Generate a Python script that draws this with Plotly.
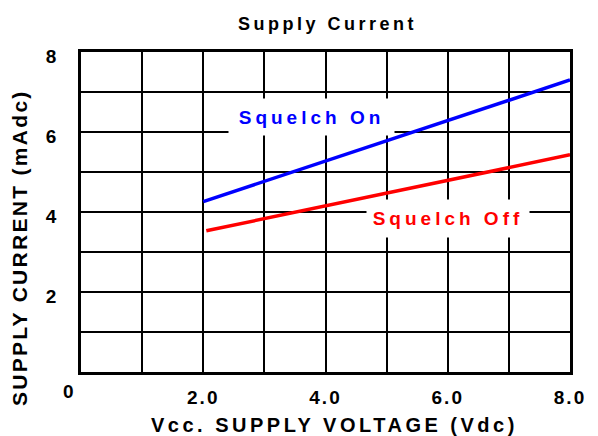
import plotly.graph_objects as go

# Data
on_x = [2.0, 8.0]
on_y = [4.26, 7.3]
off_x = [2.05, 8.0]
off_y = [3.53, 5.43]

x_tickvals = [0, 1, 2, 3, 4, 5, 6, 7, 8]
x_ticktext = ["", "", "2.0", "", "4.0", "", "6.0", "", "8.0"]
y_tickvals = [0, 1, 2, 3, 4, 5, 6, 7, 8]
y_ticktext = ["", "", "2", "", "4", "", "6", "", "8"]

FONT = "Liberation Sans, Arial, Helvetica, sans-serif"

L, R, T, B = 81, 578, 52, 372
PW, PH = R - L, B - T


def spaced(t, px):
    return f'<span style="letter-spacing:{px}px">{t}</span>'


fig = go.Figure()
fig.add_trace(go.Scatter(x=on_x, y=on_y, mode="lines",
                         line=dict(color="#0000ff", width=3.5),
                         name="Squelch On", showlegend=False, hoverinfo="skip"))
fig.add_trace(go.Scatter(x=off_x, y=off_y, mode="lines",
                         line=dict(color="#ff0000", width=3.5),
                         name="Squelch Off", showlegend=False, hoverinfo="skip"))

axis_common = dict(
    showgrid=True, gridcolor="black", gridwidth=2,
    showline=True, linecolor="black", linewidth=2.5, mirror=True,
    zeroline=False, ticks="", tickfont=dict(family=FONT, size=19, color="black", weight=700),
    fixedrange=True, ticklabeloverflow="allow",
)

fig.update_xaxes(range=[0, 8], tickmode="array", tickvals=x_tickvals,
                 ticktext=[spaced(t, 2) if t else "" for t in x_ticktext],
                 ticklabelstandoff=6, **axis_common)
fig.update_yaxes(range=[0, 8], tickmode="array", tickvals=y_tickvals,
                 ticktext=y_ticktext, ticklabelstandoff=18, ticklabelshift=4, **axis_common)


def px_x(p):
    return (p - L) / PW


def px_y(p):
    return (B - p) / PH


annotations = [
    dict(text=spaced("Supply Current", 3.5), x=px_x(332), y=px_y(24),
         xref="paper", yref="paper", xanchor="center", yanchor="middle",
         showarrow=False, font=dict(family=FONT, size=18, color="black", weight=700)),
    dict(text=spaced("Vcc. SUPPLY VOLTAGE (Vdc)", 3.5), x=px_x(339), y=px_y(425),
         xref="paper", yref="paper", xanchor="center", yanchor="middle",
         showarrow=False, font=dict(family=FONT, size=20, color="black", weight=700)),
    dict(text=spaced("SUPPLY CURRENT (mAdc)", 2.3), textangle=-90, x=px_x(18), y=px_y(248),
         xref="paper", yref="paper", xanchor="center", yanchor="middle",
         showarrow=False, font=dict(family=FONT, size=21, color="black", weight=700)),
    dict(text="0", x=px_x(68), y=px_y(391), xref="paper", yref="paper",
         xanchor="center", yanchor="middle",
         showarrow=False, font=dict(family=FONT, size=19, color="black", weight=700)),
    dict(text=spaced("Squelch On", 4), x=3.775, y=6.375, xref="x", yref="y",
         showarrow=False, width=165, height=36, bgcolor="white", borderpad=0,
         font=dict(family=FONT, size=19, color="#0000ff", weight=700)),
    dict(text=spaced("Squelch Off", 4), x=6.004, y=3.84, xref="x", yref="y",
         showarrow=False, width=162, height=37, bgcolor="white", borderpad=0,
         font=dict(family=FONT, size=19, color="#ff0000", weight=700)),
]

fig.update_layout(
    width=598, height=436, autosize=False,
    margin=dict(l=L, r=598 - R, t=T, b=436 - B),
    paper_bgcolor="white", plot_bgcolor="white",
    annotations=annotations,
    showlegend=False,
)

fig.write_html("out.html", config={"displayModeBar": False, "responsive": False},
               post_script="document.body.style.margin='0px';document.body.style.overflow='hidden';")
